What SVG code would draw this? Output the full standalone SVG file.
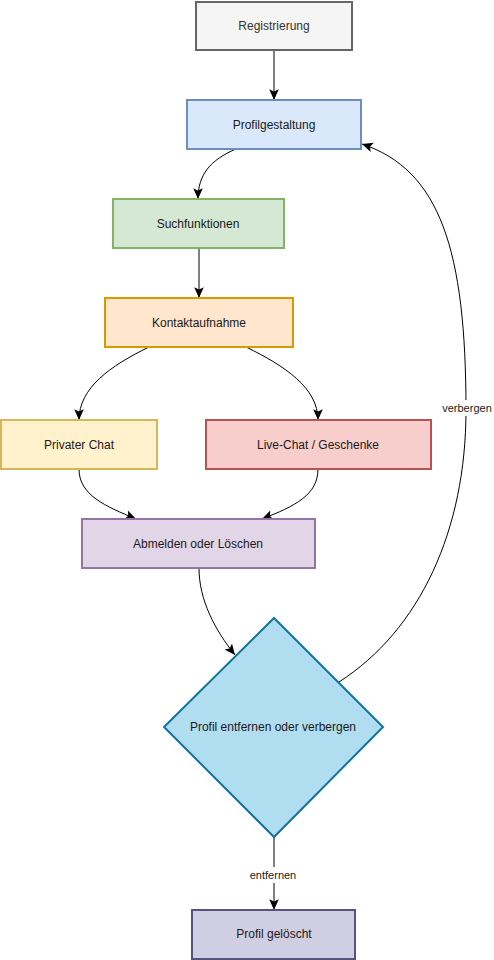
<svg xmlns="http://www.w3.org/2000/svg" width="494" height="960" viewBox="0 0 494 960">
<defs>
<marker id="arr" markerUnits="userSpaceOnUse" markerWidth="12" markerHeight="12" viewBox="0 0 10 10" refX="9" refY="5" orient="auto">
<path d="M0,1 L9,5 L0,9 L2,5 Z" fill="#000"/>
</marker>
<style>
text{font-family:"Liberation Sans",Arial,sans-serif;font-size:12px;fill:#1a1a1a;text-anchor:middle;dominant-baseline:central}
.n{stroke-width:2}
.c{fill:none;stroke:#000;stroke-width:1;marker-end:url(#arr)}
.lbl{font-size:11px}
</style>
</defs>
<rect width="494" height="960" fill="#fff"/>
<g id="connectors">
<path class="c" d="M274,50 L274,100"/>
<path class="c" d="M236,149 C210,160 198,175 198,199"/>
<path class="c" d="M199,248 L199,298"/>
<path class="c" d="M149,347 C110,366 79,388 79,420"/>
<path class="c" d="M246,347 C285,366 318,388 318,420"/>
<path class="c" d="M79,469 C79,495 105,506 136,519"/>
<path class="c" d="M318,469 C318,495 295,506 262,519"/>
<path class="c" d="M199,568 C199,600 215,630 235,655"/>
<path class="c" d="M339,682 C420,630 466,530 466,410 C466,250 440,170 362,144"/>
<path class="c" d="M274,837 L274,910"/>
<rect x="441" y="400" width="52" height="16" fill="#fff"/>
<text class="lbl" x="467" y="408">verbergen</text>
<rect x="248" y="867" width="50" height="16" fill="#fff"/>
<text class="lbl" x="273" y="875">entfernen</text>
</g>
<g id="registrierung"><rect class="n" x="196" y="2" width="156" height="48" fill="#f5f5f5" stroke="#666"/><text x="274" y="26" style="fill:#333">Registrierung</text></g>
<g id="profilgestaltung"><rect class="n" x="187" y="100" width="174" height="49" fill="#dae8fc" stroke="#6c8ebf"/><text x="274" y="125">Profilgestaltung</text></g>
<g id="suchfunktionen"><rect class="n" x="113" y="199" width="171" height="49" fill="#d5e8d4" stroke="#82b366"/><text x="198" y="224">Suchfunktionen</text></g>
<g id="kontaktaufnahme"><rect class="n" x="105" y="298" width="188" height="49" fill="#ffe6cc" stroke="#d79b00"/><text x="199" y="323">Kontaktaufnahme</text></g>
<g id="privater-chat"><rect class="n" x="1" y="420" width="156" height="49" fill="#fff2cc" stroke="#d6b656"/><text x="79" y="445">Privater Chat</text></g>
<g id="live-chat"><rect class="n" x="206" y="420" width="225" height="49" fill="#f8cecc" stroke="#b85450"/><text x="318" y="445">Live-Chat / Geschenke</text></g>
<g id="abmelden"><rect class="n" x="82" y="519" width="233" height="49" fill="#e1d5e7" stroke="#9673a6"/><text x="198" y="544">Abmelden oder Löschen</text></g>
<g id="entscheidung"><path class="n" d="M274,618 L383,727 L274,837 L164,727 Z" fill="#b1ddf0" stroke="#10739e"/><text x="273" y="727">Profil entfernen oder verbergen</text></g>
<g id="profil-geloescht"><rect class="n" x="192" y="910" width="163" height="49" fill="#d0cee2" stroke="#56517e"/><text x="274" y="934">Profil gelöscht</text></g>
</svg>
